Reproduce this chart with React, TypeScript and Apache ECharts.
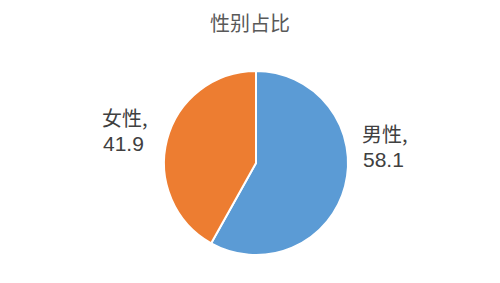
import React, { useEffect, useRef } from "react";
import * as echarts from "echarts";

const title = "性别占比";
const categories = ["男性", "女性"];
const values = [58.1, 41.9];
const colors = ["#5B9BD5", "#ED7D31"];

// label anchor positions (left edge, vertical middle of first line) per slice
const labelAnchors = [
  { x: 362, y: 133 },
  { x: 102, y: 117 },
];
const labelLineGap = 26;

const nameFont = {
  fontFamily: "Noto Sans CJK SC",
  fontSize: 20,
  fill: "#404040",
};
const valueFont = {
  fontFamily: "Liberation Sans, Noto Sans CJK SC",
  fontSize: 21,
  fill: "#404040",
};

export default function App() {
  const ref = useRef<HTMLDivElement>(null);

  useEffect(() => {
    if (!ref.current) return;
    const chart = echarts.init(ref.current, null, { renderer: "svg" });

    // slice labels: "name," on the first line, value below it
    const labelGraphics = categories.flatMap((name, i) => [
      {
        type: "text",
        x: labelAnchors[i].x,
        y: labelAnchors[i].y,
        style: { ...nameFont, text: name + ",", align: "left", verticalAlign: "middle" },
      },
      {
        type: "text",
        x: labelAnchors[i].x + 1,
        y: labelAnchors[i].y + labelLineGap,
        style: { ...valueFont, text: String(values[i]), align: "left", verticalAlign: "middle" },
      },
    ]);

    chart.setOption({
      animation: false,
      backgroundColor: "#ffffff",
      title: {
        text: title,
        left: "center",
        top: 7,
        textStyle: {
          fontFamily: "Noto Sans CJK SC",
          fontSize: 20,
          fontWeight: "normal",
          color: "#595959",
        },
      },
      graphic: labelGraphics,
      series: [
        {
          type: "pie",
          center: [256, 163],
          radius: 92,
          startAngle: 90,
          clockwise: true,
          itemStyle: { borderColor: "#ffffff", borderWidth: 2 },
          label: { show: false },
          labelLine: { show: false },
          data: categories.map((name, i) => ({
            name,
            value: values[i],
            itemStyle: { color: colors[i] },
          })),
        },
      ],
    });
    return () => chart.dispose();
  }, []);

  return (
    <div
      ref={ref}
      style={{ position: "fixed", left: 0, top: 0, width: 500, height: 283 }}
    />
  );
}
